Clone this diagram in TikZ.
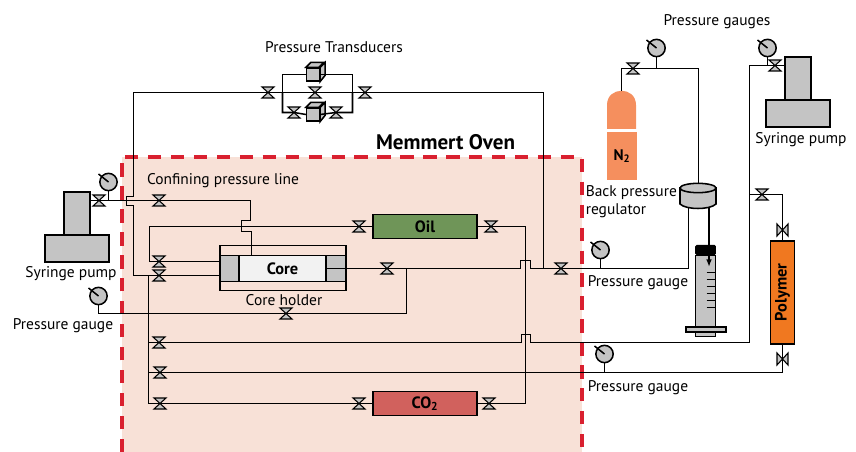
\documentclass[tikz,border=0pt]{standalone}
\usepackage{fontspec}
\setmainfont{PT Sans}
\usetikzlibrary{arrows.meta}
\usetikzlibrary{shapes.geometric}
\tikzset{>={Latex[length=2mm,width=1.5mm]}}
\definecolor{ovenfill}{HTML}{F8E1D7}
\definecolor{ovenred}{HTML}{D9202F}
\definecolor{partgray}{HTML}{C4C4C4}
\definecolor{oilgreen}{HTML}{6F9558}
\definecolor{cotwored}{HTML}{D1615D}
\definecolor{polyorange}{HTML}{F07820}
\definecolor{tanksalmon}{HTML}{F58F5E}
\begin{document}
\begin{tikzpicture}[x=0.75pt,y=-0.75pt,line width=1.15pt,
    part/.style = {draw, fill=partgray, inner sep=0pt},
    vessel/.style = {draw, inner sep=0pt, font=\bfseries\fontsize{12.3}{14}\selectfont},
    gauge/.style = {draw, circle, fill=partgray, inner sep=0pt, minimum size=13pt},
    caption/.style = {inner sep=0pt, font=\fontsize{11.6}{13.5}\selectfont, align=left},
    valve/.style = {inner sep=0pt, minimum size=13pt, path picture={
        \draw[line width=0.8pt,fill=partgray,shift={(path picture bounding box.center)}]
            (-6,-5.5) -- (6,-5.5) -- (-6,5.5) -- (6,5.5) -- cycle;}},
    pipe/.style = {draw}]
\useasboundingbox (0,0) rectangle (856,452);
% oven
\fill[ovenfill] (122,157) rectangle (582,452);
\draw[ovenred, line width=2.3pt, dash pattern=on 10pt off 7.2pt] (122,452) -- (122,157) -- (582,157) -- (582,452);
\node[inner sep=0pt, font=\bfseries\fontsize{15.8}{18}\selectfont] (ovenlabel) at (445.5,142) {Memmert Oven};
% vessels
\node[vessel, fill=oilgreen, minimum width=78pt, minimum height=18pt] (oil) at (425,226.5) {Oil};
\node[vessel, fill=cotwored, minimum width=78pt, minimum height=18pt] (co2) at (425,403.5) {CO\textsubscript{2}};
\node[vessel, fill=polyorange, minimum width=18pt, minimum height=77pt] (polymer) at (782.5,292.5) {\rotatebox{90}{Polymer}};
% core holder
\node[draw, inner sep=0pt, minimum width=94.5pt, minimum height=33.5pt] (holder) at (283,268) {};
\node[vessel, fill=black!5, minimum width=65pt, minimum height=19.5pt] (core) at (282.5,268.5) {Core};
\node[part, minimum width=14.5pt, minimum height=19.5pt] (capleft) at (229.5,268.5) {};
\node[part, minimum width=15pt, minimum height=19.5pt] (capright) at (336,268.5) {};
% syringe pumps
\node[part, minimum width=19.5pt, minimum height=32.5pt] (columnleft) at (77,213.5) {};
\node[part, minimum width=48pt, minimum height=20pt] (baseleft) at (77,248.5) {};
\node[part, minimum width=19.5pt, minimum height=32.5pt] (columnright) at (798,78.5) {};
\node[part, minimum width=48pt, minimum height=20pt] (baseright) at (798,113.5) {};
% gauges
\node[gauge] (g1) at (108.5,182) {};
\node[gauge] (g2) at (98.5,296) {};
\node[gauge] (g3) at (656.5,48) {};
\node[gauge] (g4) at (767.5,48) {};
\node[gauge] (g5) at (600.5,250) {};
\node[gauge] (g6) at (604.5,354) {};
\foreach \g in {g1,g2,g3,g4,g5,g6}
    \draw (\g.center) -- ++(-10,-8);
% valves
\node[valve] (v1) at (99,200.5) {};
\node[valve] (v2) at (159,200.5) {};
\node[valve] (v3) at (159,261.5) {};
\node[valve] (v4) at (159,275.5) {};
\node[valve] (v5) at (286,313.5) {};
\node[valve] (v6) at (159,342.5) {};
\node[valve] (v7) at (160,372.5) {};
\node[valve] (v8) at (160,403.5) {};
\node[valve] (v9) at (359,403.5) {};
\node[valve] (v10) at (489,403.5) {};
\node[valve] (v11) at (359,226.5) {};
\node[valve] (v12) at (491,226.5) {};
\node[valve] (v13) at (387,268.5) {};
\node[valve] (v14) at (561,268.5) {};
\node[valve] (v15) at (268,92.5) {};
\node[valve] (v16) at (315,92.5) {};
\node[valve] (v17) at (365,92.5) {};
\node[valve] (v18) at (294,112.5) {};
\node[valve] (v19) at (336,112.5) {};
\node[valve] (v20) at (633,68.5) {};
\node[valve] (v21) at (775,65.5) {};
\node[valve] (v22) at (762,194.5) {};
\node[valve, rotate=90] (v23) at (782.5,230) {};
\node[valve, rotate=90] (v24) at (782.5,359) {};
% transducers
\foreach \c/\y in {cubeup/74.5,cubedown/114.5} {
    \node[part, minimum size=9.5pt] (\c) at (313,\y) {};
    \draw[fill=partgray] (\c.north west) -- ++(5,-5) -- ++(13,0) -- ++(-5,5) -- cycle;
    \draw[fill=partgray] (\c.north east) -- ++(5,-5) -- ++(0,13) -- (\c.south east) -- cycle;
}
% pipes
\draw[pipe] (columnleft.east |- v1) -- (v2.center) -| (250.5,220.5) -- (241.5,220.5) -- (241.5,231.5) -- (251.5,231.5) -- (251.5,256);
\draw[pipe] (g1.south) -- (g1.south |- v1);
\draw[pipe] (v17.center) -- (543.5,92.5) -- (543.5,268.5);
\draw[pipe] (v15.center) -- (133.5,92.5) -- (133.5,196.5) -- (126.5,196.5) -- (126.5,205.5) -- (133.5,205.5) -- (133.5,275.5) -- (v4.center) -- (capleft.west |- v4);
\draw[pipe] (v15.center) -- (v17.center);
\draw[pipe] (282.5,92.5) |- (cubeup.west);
\draw[pipe] (282.5,92.5) |- (v18.center) -- (cubedown.west);
\draw[pipe] (352.5,92.5) |- (cubeup.east);
\draw[pipe] (352.5,92.5) |- (v19.center) -- (cubedown.east);
\draw[pipe] (v11.center) -- (149.5,226.5) |- (v3.center) -- (capleft.west |- v3);
\draw[pipe] (v11.center) -- (oil.west);
\draw[pipe] (oil.east) -- (525.5,226.5) -- (525.5,403.5) -- (v10.center) -- (co2.east);
\draw[pipe] (co2.west) -- (v9.center) -- (v8.center) -- (148.5,403.5) -- (148.5,275.5);
\draw[pipe] (148.5,342.5) -- (521.5,342.5) -- (521.5,334.5) -- (530.5,334.5) -- (530.5,342.5) -- (749.5,342.5) -- (749.5,65.5) -- (columnright.west |- v21);
\draw[pipe] (148.5,372.5) -- (782.5,372.5) -- (v24.center) -- (polymer.south);
\draw[pipe] (749.5,194.5) -- (782.5,194.5) -- (v23.center) -- (polymer.north);
\draw[pipe] (g2.south) |- (v5.center) -- (406.5,313.5) -- (406.5,268.5);
\draw[pipe] (capright.west |- v13) -- (520.5,268.5) -- (520.5,260.5) -- (530.5,260.5) -- (530.5,268.5) -- (688.5,268.5) -- (688.5,207);
\draw[pipe] (g5.south) -- (g5.south |- v14);
\draw[pipe] (g6.south) -- (g6.south |- v7);
\draw[pipe] (g3.south) -- (g3.south |- v20);
\draw[pipe] (g4.south) -- (g4.south |- v21);
% nitrogen line and cylinder
\fill[tanksalmon] (607,129) -- (607,105) .. controls (607,86) and (636,86) .. (636,105) -- (636,129) -- cycle;
\node[inner sep=0pt, fill=tanksalmon, minimum width=22.5pt, minimum height=36pt, font=\bfseries\fontsize{11.5}{14}\selectfont] (n2) at (622,156) {N\textsubscript{2}};
\draw[pipe] (621.5,91) -- (621.5,68.5) -- (v20.center) -- (698.5,68.5) -- (698.5,185);
% back pressure regulator
\draw[fill=partgray] (680,188) -- (680,204) .. controls (686,210) and (710,210) .. (716,204) -- (716,188) -- cycle;
\node[draw, ellipse, fill=partgray, inner sep=0pt, minimum width=27pt, minimum height=7pt] (bpr) at (698,188) {};
% measuring cylinder
\node[part, minimum width=15pt, minimum height=61pt] (tube) at (705.5,296) {};
\node[fill=black, inner sep=0pt, minimum width=15.5pt, minimum height=7.5pt, rounded corners=1pt] (tubecap) at (705.5,250) {};
\node[part, minimum width=30pt, minimum height=4pt] (tubebase) at (706,329.5) {};
\foreach \y in {272,279,286,293,300,307}
    \draw[line width=0.7pt] (706.5,\y) -- (tube.east |- 0,\y);
\draw[->] (709,207) -- (709,267);
% labels
\node[caption] (l1) at (334,47) {Pressure Transducers};
\node[caption] (l2) at (717,22) {Pressure gauges};
\node[caption] (l3) at (223,181) {Confining pressure line};
\node[caption] (l4) at (71,274) {Syringe pump};
\node[caption] (l5) at (63,326) {Pressure gauge};
\node[caption] (l6) at (284,300) {Core holder};
\node[caption] (l7) at (801,140) {Syringe pump};
\node[caption, anchor=west] (l8) at (585,202) {Back pressure\\regulator};
\node[caption] (l9) at (638,283) {Pressure gauge};
\node[caption] (l10) at (638,388) {Pressure gauge};
\end{tikzpicture}
\end{document}
